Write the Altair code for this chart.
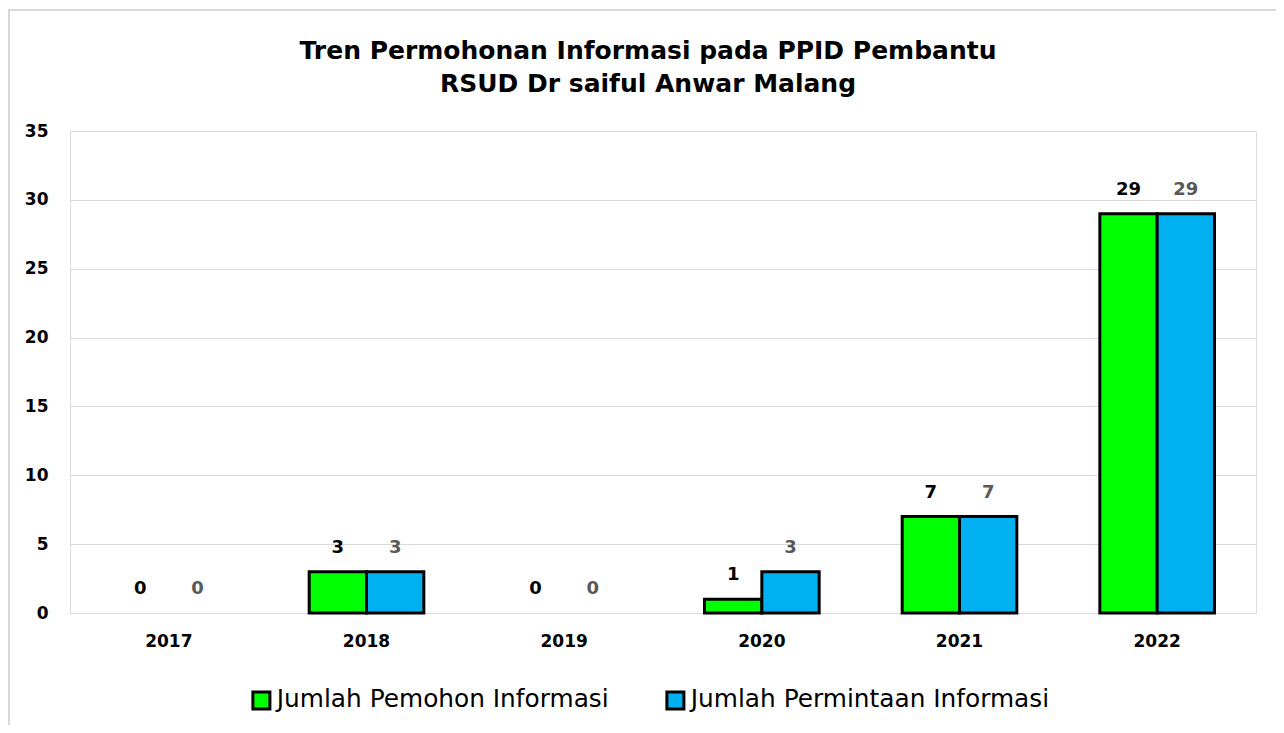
import altair as alt
import pandas as pd

years = ["2017", "2018", "2019", "2020", "2021", "2022"]
series_names = ["Jumlah Pemohon Informasi", "Jumlah Permintaan Informasi"]
pemohon = [0, 3, 0, 1, 7, 29]
permintaan = [0, 3, 0, 3, 7, 29]
title_lines = ["Tren Permohonan Informasi pada PPID Pembantu", "RSUD Dr saiful Anwar Malang"]

rows = []
for y, a, b in zip(years, pemohon, permintaan):
    rows.append({"year": y, "series": series_names[0], "value": a})
    rows.append({"year": y, "series": series_names[1], "value": b})
df = pd.DataFrame(rows)

FONT = "DejaVu Sans"
W, H = 1186, 482

x_enc = alt.X("year:N", sort=years, title=None,
              scale=alt.Scale(paddingInner=0.42, paddingOuter=0.21),
              axis=alt.Axis(labelAngle=0, ticks=False, domain=False, labelPadding=20,
                            labelFont=FONT, labelFontSize=17, labelFontWeight="bold",
                            labelColor="#000000"))
xo = alt.XOffset("series:N", sort=series_names,
                 scale=alt.Scale(domain=series_names, paddingInner=0, paddingOuter=0))
y_enc = alt.Y("value:Q", title=None,
              scale=alt.Scale(domain=[0, 35], nice=False),
              axis=alt.Axis(values=[0, 5, 10, 15, 20, 25, 30, 35], ticks=False, domain=False,
                            labelPadding=22, labelFont=FONT, labelFontSize=17,
                            labelFontWeight="bold", labelColor="#000000",
                            gridColor="#d9d9d9", gridWidth=1))

bars = alt.Chart(df).mark_bar(stroke="black", strokeWidth=3).encode(
    x=x_enc, xOffset=xo, y=y_enc,
    strokeOpacity=alt.when(alt.datum.value > 0).then(alt.value(1)).otherwise(alt.value(0)),
    color=alt.Color("series:N", sort=series_names,
                    scale=alt.Scale(domain=series_names, range=["#00ff00", "#00b0f0"]),
                    legend=alt.Legend(title=None, orient="none", direction="horizontal",
                                      legendX=179, legendY=557,
                                      symbolType="square",
                                      symbolSize=289, symbolStrokeColor="black",
                                      symbolStrokeWidth=3, symbolOpacity=1,
                                      labelFont=FONT, labelFontSize=24.8, labelColor="#000000",
                                      labelOffset=3, columnPadding=51, labelLimit=600)),
)

labels = alt.Chart(df).mark_text(font=FONT, fontSize=18, fontWeight="bold", dy=-24,
                                 baseline="middle").encode(
    x=alt.X("year:N", sort=years), xOffset=xo, y="value:Q",
    text="value:Q",
    color=alt.Color("series:N", sort=series_names,
                    scale=alt.Scale(domain=series_names, range=["#000000", "#595959"]),
                    legend=None),
)

frame = alt.Chart(alt.Data(values=[{}])).mark_rect(fill=None, stroke="#d9d9d9", strokeWidth=2,
                                                   clip=False).encode(
    x=alt.value(-61), x2=alt.value(1400), y=alt.value(-121), y2=alt.value(900))

chart = alt.layer(frame, bars, labels).resolve_scale(color="independent").properties(
    width=W, height=H,
    autosize=alt.AutoSizeParams(type="none"),
    padding={"left": 62, "top": 123, "right": 20, "bottom": 112},
    title=alt.Title(text=title_lines, font="DejaVu Sans", fontSize=25,
                    fontWeight="bold", color="#000000", lineHeight=33,
                    baseline="alphabetic", anchor="middle", dx=-15, offset=-108),
).configure_view(stroke=None).configure(background="white")

chart.save("out.html", embed_options={"renderer": "svg", "actions": False})
